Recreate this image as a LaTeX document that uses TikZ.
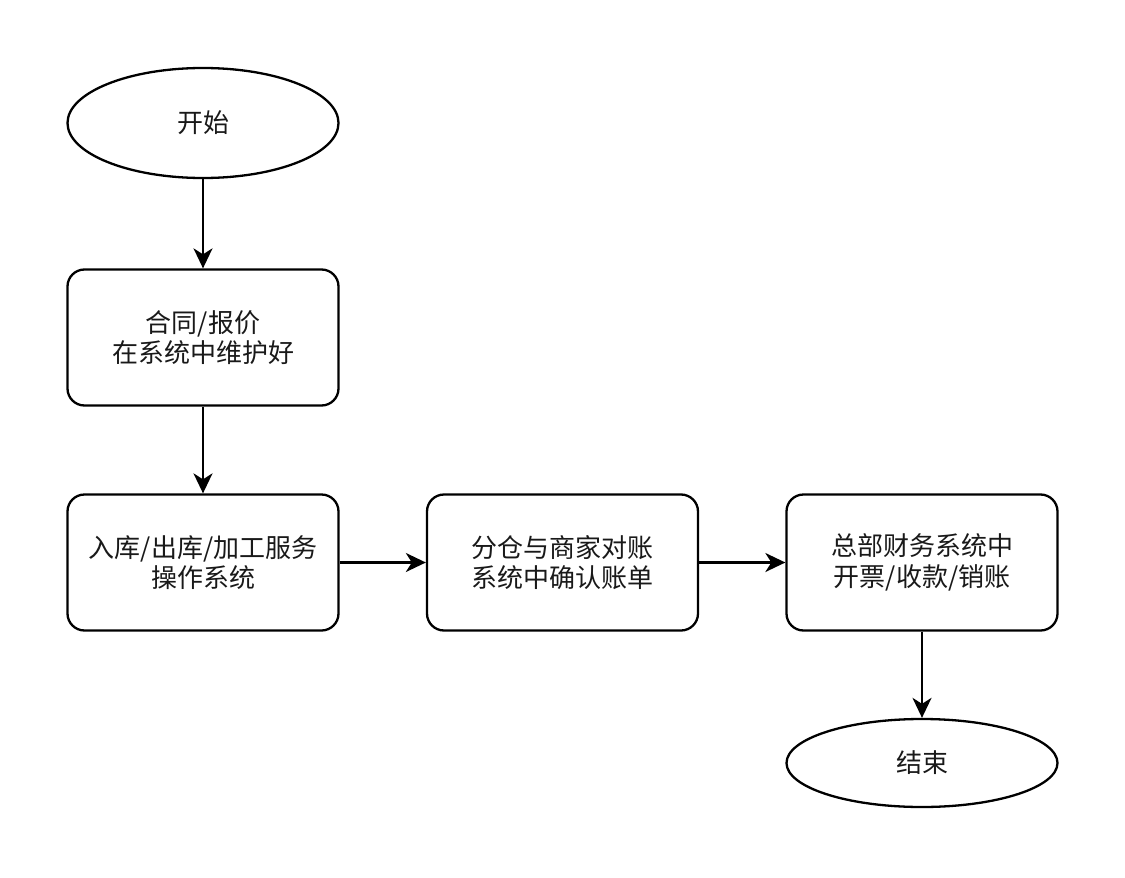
\documentclass[tikz,border=0pt]{standalone}
\usepackage{fontspec}
\newfontfamily\cjk{Noto Sans CJK SC}
\usetikzlibrary{shapes.geometric,arrows.meta}
\begin{document}
\begin{tikzpicture}[x=1pt,y=-1pt,
  txt/.style={font=\cjk\fontsize{26}{30.5}\selectfont, align=center, text=black!90},
  box/.style={txt, draw, line width=2.3pt, rounded corners=17pt, minimum width=271pt, minimum height=136pt, inner sep=0pt},
  term/.style={txt, draw, ellipse, line width=2.3pt, minimum width=271pt, inner sep=0pt},
  arr/.style={line width=2.3pt, -{Stealth[length=20pt,width=19pt,inset=6pt]}}]
\useasboundingbox (0,0) rectangle (1125,878);
\node[term, minimum height=110pt] (start) at (203,123) {开始};
\node[box] (b1) at (203,337.5) {合同/报价\\在系统中维护好};
\node[box] (b2) at (203,562.5) {入库/出库/加工服务\\操作系统};
\node[box] (b3) at (562.5,562.5) {分仓与商家对账\\系统中确认账单};
\node[box] (b4) at (922,562.5) {总部财务系统中\\开票/收款/销账};
\node[term, minimum height=88pt] (end) at (922,763) {结束};
\draw[arr] (start) -- (b1);
\draw[arr] (b1) -- (b2);
\draw[arr] (b2) -- (b3);
\draw[arr] (b3) -- (b4);
\draw[arr] (b4) -- (end);
\end{tikzpicture}
\end{document}
